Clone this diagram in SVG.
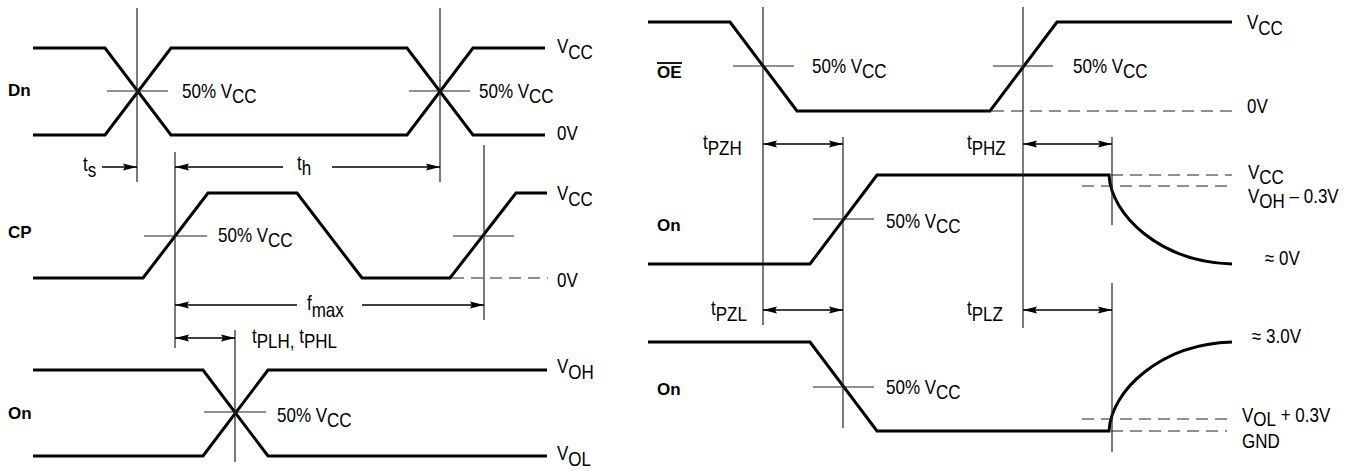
<svg xmlns="http://www.w3.org/2000/svg" width="1358" height="471" viewBox="0 0 1358 471">
<style>
.w{fill:none;stroke:#000;stroke-width:3;stroke-linejoin:miter}
.r{fill:none;stroke:#222;stroke-width:1.2}
.d{fill:none;stroke:#222;stroke-width:1.2;stroke-dasharray:12 7}
.a{fill:none;stroke:#000;stroke-width:1.3;marker-end:url(#ah)}
.a2{fill:none;stroke:#000;stroke-width:1.3;marker-start:url(#ah);marker-end:url(#ah)}
.as{fill:none;stroke:#000;stroke-width:1.3;marker-start:url(#ah)}
.t{font-family:"Liberation Sans",Arial,sans-serif;font-size:20px;fill:#000}
.b{font-family:"Liberation Sans",Arial,sans-serif;font-size:17px;font-weight:bold;fill:#000}
</style>
<defs>
<marker id="ah" viewBox="0 0 14 8" refX="14" refY="4" markerWidth="14" markerHeight="8" markerUnits="userSpaceOnUse" orient="auto-start-reverse">
<path d="M0,0.5 L14,4 L0,7.5 L2,4 z" fill="#000"/>
</marker>
</defs>
<rect width="1358" height="471" fill="#fff"/>

<g id="dn">
<path class="w" d="M33,48 H105 L171,135 H407 L473,48 H545"/>
<path class="w" d="M33,135 H105 L171,48 H407 L473,135 H545"/>
<line class="r" x1="107" y1="91" x2="168" y2="91"/>
<line class="r" x1="409" y1="91" x2="470" y2="91"/>
<text class="b" x="8" y="96">Dn</text>
<text class="t" transform="translate(182,98) scale(0.85,1)">50% V<tspan dy="5">CC</tspan></text>
<text class="t" transform="translate(479,98) scale(0.85,1)">50% V<tspan dy="5">CC</tspan></text>
<text class="t" transform="translate(557,53) scale(0.85,1)">V<tspan dy="6">CC</tspan></text>
<text class="t" transform="translate(557,140) scale(0.85,1)">0V</text>
</g>

<g id="cp">
<path class="w" d="M33,278 H143 L208,193 H297 L362,278 H450 L516,193 H547"/>
<line class="d" x1="452" y1="278" x2="548" y2="278"/>
<line class="r" x1="144" y1="236" x2="207" y2="236"/>
<line class="r" x1="453" y1="236" x2="514" y2="236"/>
<text class="b" x="8" y="238">CP</text>
<text class="t" transform="translate(218,242) scale(0.85,1)">50% V<tspan dy="5">CC</tspan></text>
<text class="t" transform="translate(557,200) scale(0.85,1)">V<tspan dy="6">CC</tspan></text>
<text class="t" transform="translate(557,287) scale(0.85,1)">0V</text>
</g>

<g id="on-left">
<path class="w" d="M33,370 H203 L268,456 H547"/>
<path class="w" d="M33,456 H203 L268,370 H547"/>
<line class="r" x1="204" y1="412" x2="266" y2="412"/>
<text class="b" x="8" y="419">On</text>
<text class="t" transform="translate(277,422) scale(0.85,1)">50% V<tspan dy="5">CC</tspan></text>
<text class="t" transform="translate(557,373) scale(0.85,1)">V<tspan dy="6">OH</tspan></text>
<text class="t" transform="translate(557,460) scale(0.85,1)">V<tspan dy="6">OL</tspan></text>
</g>

<g id="oe">
<path class="w" d="M648,22 H730 L797,111 H990 L1057,22 H1232"/>
<line class="d" x1="992" y1="111" x2="1232" y2="111"/>
<line class="r" x1="733" y1="66" x2="794" y2="66"/>
<line class="r" x1="993" y1="66" x2="1053" y2="66"/>
<text class="b" x="657" y="78">OE</text>
<line x1="657" y1="63" x2="682" y2="63" stroke="#000" stroke-width="1.8"/>
<text class="t" transform="translate(812,73) scale(0.85,1)">50% V<tspan dy="5">CC</tspan></text>
<text class="t" transform="translate(1073,73) scale(0.85,1)">50% V<tspan dy="5">CC</tspan></text>
<text class="t" transform="translate(1247,29) scale(0.85,1)">V<tspan dy="6">CC</tspan></text>
<text class="t" transform="translate(1247,113) scale(0.85,1)">0V</text>
</g>

<g id="on-high">
<path class="w" d="M648,264 H810 L877,175 H1109 C1111,215 1160,262 1232,264"/>
<line class="d" x1="1111" y1="175" x2="1232" y2="175"/>
<line class="d" x1="1082" y1="186" x2="1232" y2="186"/>
<line class="r" x1="813" y1="219" x2="874" y2="219"/>
<text class="b" x="657" y="231">On</text>
<text class="t" transform="translate(886,228) scale(0.85,1)">50% V<tspan dy="5">CC</tspan></text>
<text class="t" transform="translate(1248,179) scale(0.85,1)">V<tspan dy="5">CC</tspan></text>
<text class="t" transform="translate(1248,203) scale(0.85,1)">V<tspan dy="5">OH</tspan><tspan dy="-5"> – 0.3V</tspan></text>
<text class="t" transform="translate(1265,265) scale(0.85,1)">≈ 0V</text>
</g>

<g id="on-low">
<path class="w" d="M648,342 H810 L877,431 H1109 C1111,391 1160,344 1232,342"/>
<line class="d" x1="1082" y1="419" x2="1227" y2="419"/>
<line class="d" x1="1111" y1="431" x2="1227" y2="431"/>
<line class="r" x1="813" y1="387" x2="874" y2="387"/>
<text class="b" x="657" y="395">On</text>
<text class="t" transform="translate(886,394) scale(0.85,1)">50% V<tspan dy="5">CC</tspan></text>
<text class="t" transform="translate(1252,343) scale(0.85,1)">≈ 3.0V</text>
<text class="t" transform="translate(1242,422) scale(0.85,1)">V<tspan dy="4">OL</tspan><tspan dy="-4"> + 0.3V</tspan></text>
<text class="t" transform="translate(1242,448) scale(0.85,1)">GND</text>
</g>

<g id="connectors">
<line class="r" x1="137" y1="8" x2="137" y2="182"/>
<line class="r" x1="440" y1="8" x2="440" y2="182"/>
<line class="r" x1="175" y1="152" x2="175" y2="348"/>
<line class="r" x1="484" y1="145" x2="484" y2="320"/>
<line class="r" x1="235" y1="330" x2="235" y2="462"/>
<line class="r" x1="763" y1="7" x2="763" y2="325"/>
<line class="r" x1="1023" y1="7" x2="1023" y2="328"/>
<line class="r" x1="843" y1="137" x2="843" y2="428"/>
<line class="r" x1="1112" y1="137" x2="1112" y2="225"/>
<line class="r" x1="1112" y1="283" x2="1112" y2="452"/>

<line class="a" x1="102" y1="167" x2="137" y2="167"/>
<line class="as" x1="175" y1="167" x2="283" y2="167"/>
<line class="a" x1="332" y1="167" x2="440" y2="167"/>
<line class="as" x1="175" y1="305" x2="297" y2="305"/>
<line class="a" x1="362" y1="305" x2="484" y2="305"/>
<line class="a2" x1="175" y1="338" x2="235" y2="338"/>
<line class="a2" x1="763" y1="144" x2="843" y2="144"/>
<line class="a2" x1="1023" y1="144" x2="1112" y2="144"/>
<line class="a2" x1="763" y1="310" x2="843" y2="310"/>
<line class="a2" x1="1023" y1="310" x2="1112" y2="310"/>

<text class="t" transform="translate(83,171) scale(0.85,1)">t<tspan dy="6">s</tspan></text>
<text class="t" transform="translate(297,170) scale(0.85,1)">t<tspan dy="5">h</tspan></text>
<text class="t" transform="translate(307,310) scale(0.85,1)">f<tspan dy="7">max</tspan></text>
<text class="t" transform="translate(252,343) scale(0.85,1)">t<tspan dy="5">PLH,</tspan><tspan dy="-5"> t</tspan><tspan dy="5">PHL</tspan></text>
<text class="t" transform="translate(703,149) scale(0.85,1)">t<tspan dy="6">PZH</tspan></text>
<text class="t" transform="translate(967,149) scale(0.85,1)">t<tspan dy="6">PHZ</tspan></text>
<text class="t" transform="translate(711,315) scale(0.85,1)">t<tspan dy="6">PZL</tspan></text>
<text class="t" transform="translate(967,315) scale(0.85,1)">t<tspan dy="6">PLZ</tspan></text>
</g>
</svg>
